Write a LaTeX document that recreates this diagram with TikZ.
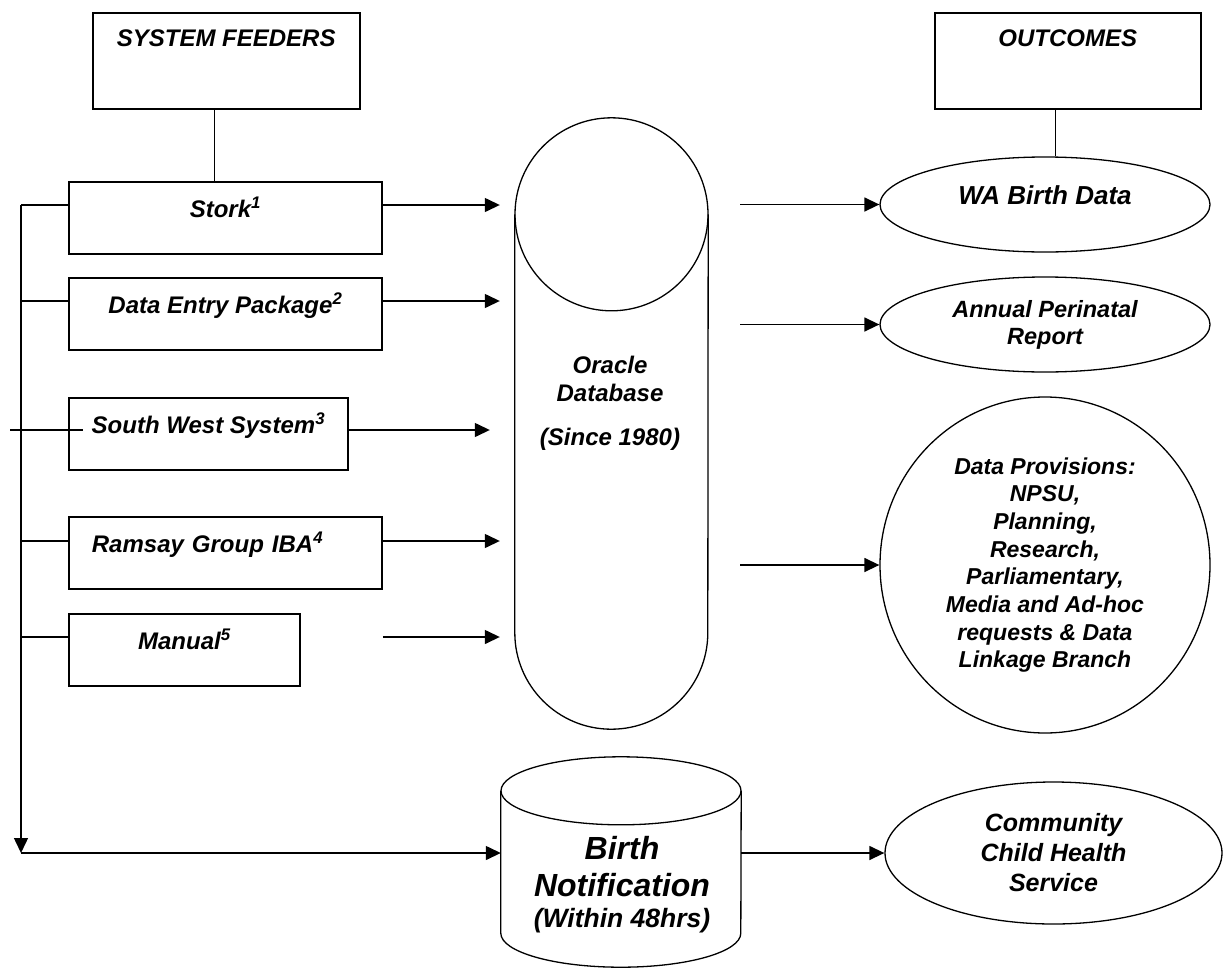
\documentclass[tikz,border=0pt]{standalone}
\usepackage{fontspec}
\setmainfont{Liberation Sans}
\usetikzlibrary{shapes.geometric}
\usetikzlibrary{arrows.meta}

\begin{document}
\begin{tikzpicture}[x=1pt, y=-1pt, >={Triangle[length=15pt,width=14pt]},
    header/.style={draw, line width=1.5pt, anchor=north west, inner sep=0pt, minimum width=267pt, text height=33.5pt, text depth=62.5pt, font=\fontsize{24}{28}\selectfont\bfseries\itshape},
    feeder/.style={draw, line width=1.8pt, anchor=north west, inner sep=0pt, text height=36pt, text depth=36pt, font=\fontsize{24}{28}\selectfont\bfseries\itshape},
    outcome/.style={ellipse, draw, line width=1.3pt, inner sep=0pt, align=center, minimum width=330pt},
    store/.style={inner sep=0pt},
    link/.style={line width=1.4pt}]
    \useasboundingbox (0,0) rectangle (1223,969);

    \node[header] (feeders) at (92,12) {SYSTEM FEEDERS};
    \node[header, minimum width=266pt] (outcomes) at (934,12) {OUTCOMES};

    \node[feeder, minimum width=313pt] (stork) at (68,181) {Stork\textsuperscript{1}};
    \node[feeder, minimum width=313pt] (entry) at (68,277) {Data Entry Package\textsuperscript{2}};
    \node[feeder, minimum width=279pt] (southwest) at (68,397) {South West System\textsuperscript{3}};
    \node[feeder, minimum width=313pt, text width=267pt, inner xsep=23pt, align=left] (ramsay) at (68,516) {Ramsay Group IBA\textsuperscript{4}};
    \node[feeder, minimum width=231pt] (manual) at (68,613) {Manual\textsuperscript{5}};

    \node[store, minimum width=193pt, minimum height=611pt] (oracle) at (611.5,423.5) {};
    \node[font=\fontsize{24}{28}\selectfont\bfseries\itshape, align=center] (oracletext) at (610,403) {Oracle\\Database\\[16pt](Since 1980)};
    \draw[line width=1.3pt] ([yshift=-96.5pt]oracle.north) circle[radius=96.5pt];
    \draw[line width=1.3pt] ([yshift=-96.5pt]oracle.north west) -- ([yshift=96.5pt]oracle.south west) arc[start angle=180, end angle=360, radius=96.5pt] -- ([yshift=-96.5pt]oracle.north east);

    \node[store, minimum width=240pt, minimum height=210pt] (birth) at (621,862) {};
    \node[font=\fontsize{32}{37}\selectfont\bfseries\itshape, align=center] (birthtext) at (622,885) {Birth\\Notification\\[-6pt]{\fontsize{26.5}{31}\selectfont(Within 48hrs)}};
    \draw[line width=1.3pt] ([yshift=-34pt]birth.north) ellipse[x radius=120pt, y radius=34pt];
    \draw[line width=1.3pt] ([yshift=-34pt]birth.north west) -- ([yshift=34pt]birth.south west) arc[start angle=180, end angle=360, x radius=120pt, y radius=34pt] -- ([yshift=-34pt]birth.north east);

    \node[outcome, minimum height=95pt, text height=20pt, text depth=20pt, font=\fontsize{26}{30}\selectfont\bfseries\itshape] (wa) at (1045,204.5) {WA Birth Data};
    \node[outcome, minimum height=95pt, font=\fontsize{23.5}{27}\selectfont\bfseries\itshape] (annual) at (1045,324.5) {Annual Perinatal\\Report};
    \node[outcome, minimum height=336pt, font=\fontsize{23}{27.7}\selectfont\bfseries\itshape] (provisions) at (1045,565) {Data Provisions:\\NPSU,\\Planning,\\Research,\\Parliamentary,\\Media and Ad-hoc\\requests \& Data\\Linkage Branch};
    \node[outcome, minimum width=337pt, minimum height=142pt, font=\fontsize{25}{30}\selectfont\bfseries\itshape] (community) at (1053.5,853) {Community\\Child Health\\Service};

    \coordinate (bus1) at (21,205);
    \coordinate (bus2) at (21,301);
    \coordinate (bus3) at (10,430);
    \coordinate (bus4) at (21,541);
    \coordinate (bus5) at (21,637);
    \coordinate (bus6) at (21,853);

    \draw[link] ([xshift=-11.5pt]feeders.south) -- ([xshift=-11.5pt]feeders.south |- stork.north);
    \draw[link] ([xshift=-12pt]outcomes.south) -- ([xshift=-12pt]outcomes.south |- wa.north);

    \draw[link] (bus1) -- (bus1 -| stork.west);
    \draw[link] (bus2) -- (bus2 -| entry.west);
    \draw[link, shorten >=-15pt] (bus3) -- (bus3 -| southwest.west);
    \draw[link] (bus4) -- (bus4 -| ramsay.west);
    \draw[link] (bus5) -- (bus5 -| manual.west);
    \draw[link, ->] (bus1) -- (bus6);
    \draw[link, ->] (bus6) -- (bus6 -| birth.west);

    \draw[link, ->, shorten >=15pt] (bus1 -| stork.east) -- (bus1 -| oracle.west);
    \draw[link, ->, shorten >=15pt] (bus2 -| entry.east) -- (bus2 -| oracle.west);
    \draw[link, ->, shorten >=25pt] (bus3 -| southwest.east) -- (bus3 -| oracle.west);
    \draw[link, ->, shorten >=15pt] (bus4 -| ramsay.east) -- (bus4 -| oracle.west);
    \draw[link, ->, shorten >=15pt] (bus5 -| ramsay.east) -- (bus5 -| oracle.west);

    \draw[link, ->, shorten <=32pt] (wa.west -| oracle.east) -- (wa.west);
    \draw[link, ->, shorten <=32pt] (annual.west -| oracle.east) -- (annual.west);
    \draw[link, ->, shorten <=32pt] (provisions.west -| oracle.east) -- (provisions.west);
    \draw[link, ->] (bus6 -| birth.east) -- (community.west);
\end{tikzpicture}
\end{document}
